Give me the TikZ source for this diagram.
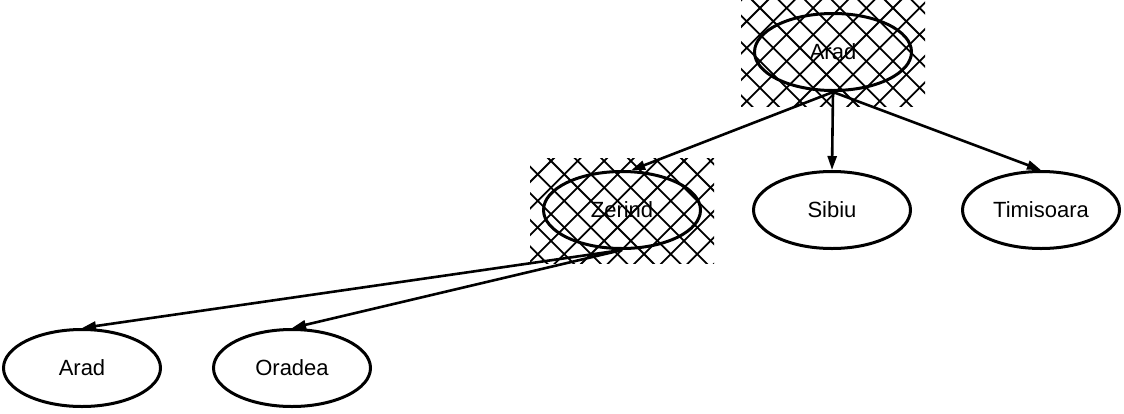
\documentclass[tikz,border=0pt]{standalone}
\usepackage{fontspec}
\setmainfont{Liberation Sans}
\usetikzlibrary{arrows.meta,calc,shapes.geometric}
\newcommand\hatchbox[6]{%
  \begin{scope}
    \clip (#1,#2) rectangle (#3,#4);
    \foreach \k in {-10,...,10}{
      \draw[hatchline] ($(#5,#6)+(\k*26.6,0)$) ++(-200,-200) -- ++(400,400);
      \draw[hatchline] ($(#5,#6)+(\k*26.6,0)$) ++(-200,200) -- ++(400,-400);
    }
  \end{scope}}
\begin{document}
\begin{tikzpicture}[x=1pt,y=-1pt,
  city/.style={ellipse,draw,line width=3pt,minimum width=157pt,minimum height=77pt,inner sep=0pt,font=\fontsize{22}{26}\selectfont},
  edge/.style={line width=2.6pt,-{Triangle[length=14pt,width=9pt]}},
  hatchline/.style={line width=1.8pt}]
\useasboundingbox (0,0) rectangle (1124,413);
\hatchbox{741}{0}{925}{106}{760}{8}
\hatchbox{530}{158}{714}{263}{551}{161}
\node[city] (arad) at (833,52) {Arad};
\node[city] (zerind) at (622,210) {Zerind};
\node[city] (sibiu) at (832,210) {Sibiu};
\node[city] (timisoara) at (1041,210) {Timisoara};
\node[city] (arad2) at (82,368) {Arad};
\node[city] (oradea) at (292,368) {Oradea};
\draw[edge] (arad.south) -- (zerind.77);
\draw[edge] (arad.south) -- (sibiu.north);
\draw[edge] (arad.south) -- (timisoara.north);
\draw[edge] (zerind.south) -- (arad2.north);
\draw[edge] (zerind.south) -- (oradea.north);
\end{tikzpicture}
\end{document}
